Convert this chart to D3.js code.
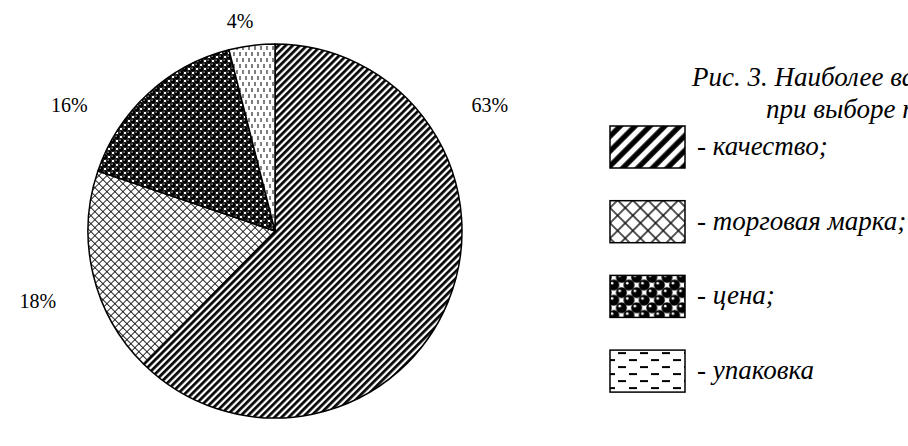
<!DOCTYPE html>
<html>
<head>
<meta charset="utf-8">
<script src="https://cdn.jsdelivr.net/npm/d3@7"></script>
<style>
  body { margin: 0; background: #fff; overflow: hidden; }
  svg { display: block; }
  text { font-family: "Liberation Serif", "Times New Roman", serif; fill: #000; }
</style>
</head>
<body>
<svg id="chart"></svg>
<script>
// Data
var categories = ["качество", "торговая марка", "цена", "упаковка"],
    shares = [63, 18, 16, 4],
    legendLabels = ["- качество;", "- торговая марка;", "- цена;", "- упаковка"],
    titleLines = ["Рис. 3. Наиболее важные факторы", "при выборе товара"];

// Layout
var w = 908, h = 446,
    cx = 275, cy = 231, r = 187,
    labelPos = [{ a: 60, r: 248 }, { a: 253, r: 248 }, { a: 301, r: 240 }, { a: 350.5, r: 211 }],
    fills = ["stripes", "cross", "balls", "dashV"],
    legendFills = ["stripesL", "crossL", "ballsL", "dashH"];

var svg = d3.select("#chart").attr("width", w).attr("height", h);
var defs = svg.append("defs");

// pattern helpers
function pat(id, pw, ph, tr) {
    return defs.append("pattern").attr("id", id)
        .attr("patternUnits", "userSpaceOnUse")
        .attr("width", pw).attr("height", ph)
        .attr("patternTransform", tr || null);
}

// diagonal stripes
[["stripes", 1, 2.7], ["stripesL", 2.1, 2.5]].forEach(function (p) {
    var g = pat(p[0], 5, 5, "rotate(45) scale(" + p[1] + ")");
    g.append("rect").attr("width", 5).attr("height", 5).attr("fill", "#fff");
    g.append("line").attr("x1", 1.4).attr("x2", 1.4).attr("y1", 0).attr("y2", 5)
        .attr("stroke", "#000").attr("stroke-width", p[2]);
});

// diamond crosshatch
[["cross", 1, 0.9], ["crossL", 1.9, 0.75]].forEach(function (p) {
    var g = pat(p[0], 5.66, 5.66, "rotate(45) scale(" + p[1] + ")");
    g.append("rect").attr("width", 5.66).attr("height", 5.66).attr("fill", "#fff");
    g.append("line").attr("x1", 0.5).attr("x2", 0.5).attr("y1", 0).attr("y2", 5.66)
        .attr("stroke", "#111").attr("stroke-width", p[2]);
    g.append("line").attr("y1", 0.5).attr("y2", 0.5).attr("x1", 0).attr("x2", 5.66)
        .attr("stroke", "#111").attr("stroke-width", p[2]);
});

// balls
[["balls", 1], ["ballsL", 1.9]].forEach(function (p) {
    var g = pat(p[0], 8, 8, "scale(" + p[1] + ")");
    g.append("rect").attr("width", 8).attr("height", 8).attr("fill", "#fff");
    [[2, 2], [6, 6], [6, -2], [-2, 6], [10, 6], [6, 10], [2, 10], [10, 2]].forEach(function (c) {
        g.append("circle").attr("cx", c[0]).attr("cy", c[1]).attr("r", 2.9).attr("fill", "#000");
        g.append("circle").attr("cx", c[0] - 0.9).attr("cy", c[1] - 0.9).attr("r", 0.7).attr("fill", "#fff");
    });
});

// vertical dashes (pie)
(function () {
    var g = pat("dashV", 6, 12);
    g.append("rect").attr("width", 6).attr("height", 12).attr("fill", "#fff");
    g.append("line").attr("x1", 1).attr("x2", 1).attr("y1", 1).attr("y2", 5)
        .attr("stroke", "#000").attr("stroke-width", 1);
    g.append("line").attr("x1", 4).attr("x2", 4).attr("y1", 7).attr("y2", 11)
        .attr("stroke", "#000").attr("stroke-width", 1);
})();

// horizontal dashes (legend)
(function () {
    var g = pat("dashH", 22, 14, "translate(610,0)");
    g.append("rect").attr("width", 22).attr("height", 14).attr("fill", "#fff");
    g.append("line").attr("x1", 3).attr("x2", 11).attr("y1", 3).attr("y2", 3)
        .attr("stroke", "#000").attr("stroke-width", 2);
    g.append("line").attr("x1", 14).attr("x2", 22).attr("y1", 10).attr("y2", 10)
        .attr("stroke", "#000").attr("stroke-width", 2);
})();

// Pie
var pie = d3.pie().sort(null).value(function (d) { return d; });
var arc = d3.arc().innerRadius(0).outerRadius(r);
var arcs = pie(shares);

var g = svg.append("g").attr("transform", "translate(" + cx + "," + cy + ")");

g.selectAll("path.slice").data(arcs).enter().append("path")
    .attr("class", "slice")
    .attr("d", arc)
    .attr("fill", function (d, i) { return "url(#" + fills[i] + ")"; })
    .attr("stroke", "#000").attr("stroke-width", 1.5)
    .attr("stroke-linejoin", "round");

g.selectAll("text.pct").data(arcs).enter().append("text")
    .attr("class", "pct")
    .attr("x", function (d, i) { return labelPos[i].r * Math.sin(labelPos[i].a * Math.PI / 180); })
    .attr("y", function (d, i) { return -labelPos[i].r * Math.cos(labelPos[i].a * Math.PI / 180); })
    .attr("text-anchor", "middle")
    .attr("dominant-baseline", "middle")
    .style("font-size", "20px")
    .text(function (d) { return d.data + "%"; });

// Title
svg.selectAll("text.title").data(titleLines).enter().append("text")
    .attr("class", "title")
    .attr("x", function (d, i) { return i == 0 ? 692 : 766; })
    .attr("y", function (d, i) { return 86 + i * 32; })
    .style("font-size", "27px").style("font-style", "italic")
    .text(function (d) { return d; });

// Legend
var legend = svg.selectAll("g.leg").data(categories).enter().append("g")
    .attr("class", "leg")
    .attr("transform", function (d, i) { return "translate(610," + (147 + i * 74.7) + ")"; });

legend.append("rect")
    .attr("x", 0).attr("y", -21).attr("width", 75).attr("height", 42)
    .attr("fill", function (d, i) { return "url(#" + legendFills[i] + ")"; })
    .attr("stroke", "#000").attr("stroke-width", 1.5);

legend.append("text")
    .attr("x", 87).attr("y", 8)
    .style("font-size", "27px").style("font-style", "italic")
    .text(function (d, i) { return legendLabels[i]; });
</script>
</body>
</html>
